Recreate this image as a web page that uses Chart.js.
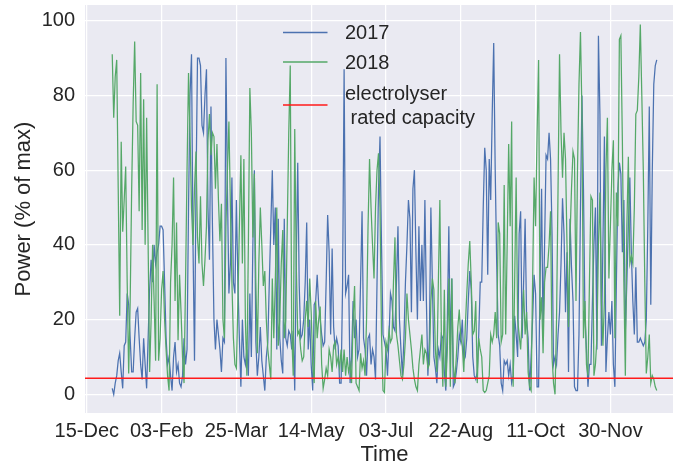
<!DOCTYPE html>
<html><head><meta charset="utf-8">
<script src="https://cdn.jsdelivr.net/npm/chart.js@4.4.1/dist/chart.umd.min.js"></script>
<style>
html,body{margin:0;padding:0;background:#fff;overflow:hidden;width:673px;height:471px;}
#wrap{position:absolute;left:0;top:0;width:684px;height:471px;}
</style></head><body>
<div id="wrap"><canvas id="c"></canvas></div>
<script>
const seriesNames = ['2017', '2018'];
const capacityLabel = ['electrolyser', ' rated capacity'];
const ratedCapacity = 4.3;
const xTickDays = [0, 50, 100, 150, 200, 250, 300, 350];
const xTickLabels = ['15-Dec', '03-Feb', '25-Mar', '14-May', '03-Jul', '22-Aug', '11-Oct', '30-Nov'];
const yTicks = [0, 20, 40, 60, 80, 100];
const firstDay = 17; // 1-Jan counted in days from 15-Dec

const power2017 = [
1.6,0,3,5,9,11,6,1.6,13,14,
27,24,15,6,6,15,22,23,15,8,
4,15,8,1.6,15,28,36,30,40,35,
38,40,45,45,44,30,15,8,10,5,
1,10,14,6,8,3,2,5,15,8,
12,50,80,91,40,9,55,90,90,88,
72,70,80,87,50,36,77,45,20,12,
20,16,12,6,15,14,90,55,27,35,
58,30,27,52,30,15,2,20,10,8,
12,5,27,10,40,60,14,5,10,18,
9,5,1,10,14,30,45,60,40,50,
12,47,15,9,5.6,47,15,13,17,16,
12,17,1,35,62,29,15,16,20,30,
46,12,20,8,1,24,25,32,24,20,
16,13,14,30,48,38,16,39,18,12,
15,13,3,3,30,87,27,29,32,3,
10,25,15,20,10,12,30,49,15,12,
5,15,16,8,12,10,4,30,55,69,
40,16,14,12,5,15,27,25,18,17,
30,45,20,12,5,15,30,40,52,47,
22,55,60,38,20,45,25,40,25,52,
25,5,15,50,30,10,7,3,12,10,
16,15,6,1,20,45,12,31,2,3,
6,10,16,14,20,9,10,15,25,33,
28,10,5,4,6,16,30,30,50,66,
60,32,63,52,75,94,60,35,16,13,
3,1,9,8,9,5,8,3,5,21,
16,10,43,49,15,30,47,20,15,1,
10,20,32,27,2,2,30,55,16,40,
64,63,70,63,43,8,10,8,16,22,
35,52.5,43,22,38,6,47,34,25,2,
1,1,16,50,80,55,21,12,2,8,
8,25,40,50,12,96,75,13,40,69,
6,15,22,16,25,8,2,30,55,62,
59,38,52,17,30,45,58,38,25,16,
34,14,14,15,14,13,14,20,45,77,
24,60,83,88,89.5
];

const power2018 = [
91,74,85,89.5,55,21,67.6,43.5,52,61,
30,5.6,25,55,78,94.4,73,72,49,86,
44,79,40,74,40,6,20,40,25,9,
83,9,15,28,33,20,12,5,1,30,
40,58,25,46,14.5,32,22,10,3,30,
60,86,70,50,40,55,65,42,35,53,
35,29,36,45,68,75,64,70,69,55,
67,52,41,51,20,15,45,60,73,50,
30,15,8,7,25,45,64,35,63,20,
5,40,82,70,42,59,30,11,35,50,
40,29,33,20,12,8,4,31,15,30,
50,13,20,35,44,15,20,45,70,88,
16,5,71,35,16,17,12,9,10,20,
25,18,31,22,8,3,25,15,20,23.5,
8,1.6,4,7,5,12,10,6,13,14,
8,10,7,12,6,12,5,10,6,8,
3,20,29,3,2,1,11,7,9,5,
20,45,63,50,40,31,50,60,64.5,50,
16,1,0.5,14,12,17,14,15,30,42,
16,13,9,5,4,8,15,27,20,16,
12,7,4,2,1,8,12,16,8,12,
11,7,8,25,31,28,12,6,30,52,
16,2,28,2,12,31,2,31,8,3,
10,18,22.7,15,13,6,18,27,35,41,
30,16,17,25,3,15,12,10,1,0.5,
1,3,5,16,14,16,22,15,46,43,
14,16,56,16,40,67,45,73,2,30,
58,20,16,12,20,28,16,22,6,2,
1,30,58,45,70,89.5,20,26,11,30,
34,34,40,49,10,3,0,20,55,91,
70,58,70,63,40,18,42,55,65,63,
25,60,83,97,75,15,25,8,5,30,
53,52,5,8,15,40,54,25,13,25,
60,74,31,45,60,68,15,54,45,95,
96,68,30,5,45,63.6,35,37,35,50,
75,76,85,99,80,60,30,5.6,10,16,
3,5,4,2,1
];

const FONT = '"Liberation Sans", Arial, sans-serif';
const TEXT = '#262626';
const xMin = -1.2, xMax = 399.2, yMin = -5, yMax = 104.2;

const toPoints = arr => arr.map((v, i) => ({x: firstDay + i, y: v}));

const bgPlugin = {
  id: 'bg',
  beforeDraw(chart) {
    const a = chart.chartArea, ctx = chart.ctx;
    ctx.save();
    ctx.fillStyle = '#EAEAF2';
    ctx.fillRect(a.left, a.top, a.right - a.left, a.bottom - a.top);
    ctx.restore();
  }
};

const legendPlugin = {
  id: 'customLegend',
  afterDraw(chart) {
    const ctx = chart.ctx;
    const ds = chart.data.datasets;
    const items = [
      {color: ds[0].borderColor, lines: [ds[0].label], cy: 32.5},
      {color: ds[1].borderColor, lines: [ds[1].label], cy: 62},
      {color: ds[2].borderColor, lines: capacityLabel, cy: 105}
    ];
    ctx.save();
    ctx.font = '20px ' + FONT;
    ctx.fillStyle = TEXT;
    ctx.textBaseline = 'middle';
    ctx.textAlign = 'left';
    const hx0 = 283, hx1 = 327.5, tx = 345, lh = 24;
    items.forEach(it => {
      ctx.strokeStyle = it.color;
      ctx.lineWidth = 1.3;
      ctx.beginPath();
      ctx.moveTo(hx0, it.cy);
      ctx.lineTo(hx1, it.cy);
      ctx.stroke();
      const n = it.lines.length;
      it.lines.forEach((t, k) => {
        ctx.fillText(t, tx, it.cy + (k - (n - 1) / 2) * lh + 1);
      });
    });
    ctx.restore();
  }
};

Chart.defaults.font.family = FONT;

new Chart(document.getElementById('c'), {
  type: 'line',
  data: {
    datasets: [
      {label: seriesNames[0], data: toPoints(power2017), borderColor: '#4C72B0', borderWidth: 1.25, pointRadius: 0, order: 2},
      {label: seriesNames[1], data: toPoints(power2018), borderColor: '#55A868', borderWidth: 1.25, pointRadius: 0, order: 1},
      {label: capacityLabel.join('\n'), data: [{x: xMin, y: ratedCapacity}, {x: xMax, y: ratedCapacity}], borderColor: '#FF1A1A', borderWidth: 1.5, pointRadius: 0, order: 0}
    ]
  },
  options: {
    responsive: true,
    maintainAspectRatio: false,
    animation: false,
    layout: {padding: {top: 5, right: 0, bottom: 0, left: 0}},
    plugins: {legend: {display: false}, tooltip: {enabled: false}},
    elements: {line: {tension: 0, fill: false}},
    scales: {
      x: {
        type: 'linear', min: xMin, max: xMax,
        afterBuildTicks: s => { s.ticks = xTickDays.map(v => ({value: v})); },
        afterFit: s => { s.height = 58; s.paddingLeft = 0; s.paddingRight = 0; },
        ticks: {
          callback: v => { const k = xTickDays.indexOf(v); return k >= 0 ? xTickLabels[k] : ''; },
          font: {size: 20}, color: TEXT, padding: 6, maxRotation: 0, autoSkip: false
        },
        grid: {color: '#FFFFFF', lineWidth: 1.25, drawTicks: false},
        border: {display: false},
        title: {display: true, text: 'Time', font: {size: 22}, color: TEXT, padding: {top: 0, bottom: 3}}
      },
      y: {
        type: 'linear', min: yMin, max: yMax,
        afterBuildTicks: s => { s.ticks = yTicks.map(v => ({value: v})); },
        afterFit: s => { s.width = 85; s.paddingTop = 0; s.paddingBottom = 0; },
        ticks: {font: {size: 20}, color: TEXT, padding: 10},
        grid: {color: '#FFFFFF', lineWidth: 1.25, drawTicks: false},
        border: {display: false},
        title: {display: true, text: 'Power (% of max)', font: {size: 22}, color: TEXT, padding: {top: 11, bottom: 0}}
      }
    }
  },
  plugins: [bgPlugin, legendPlugin]
});
</script>
</body></html>
